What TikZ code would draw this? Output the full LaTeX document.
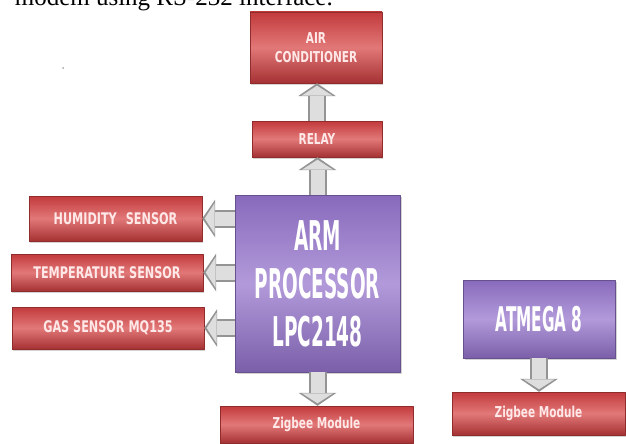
\documentclass[tikz,border=0pt]{standalone}
\usepackage{fontspec}
\setmainfont{Liberation Serif}
\newfontfamily\blockfont[FakeStretch=0.78]{DejaVu Sans Condensed}
\newfontfamily\chipfont[FakeStretch=0.5]{DejaVu Sans Condensed}
\usetikzlibrary{arrows.meta,shadows}
\definecolor{blockred}{RGB}{194,58,60}
\definecolor{blockredlight}{RGB}{226,120,120}
\definecolor{chippurple}{RGB}{136,106,188}
\definecolor{chippurplelight}{RGB}{178,154,218}
\definecolor{arrowgrey}{RGB}{148,148,148}
\definecolor{arrowlight}{RGB}{222,222,222}
\definecolor{labelpink}{RGB}{255,232,232}

\begin{document}
\begin{tikzpicture}[x=1pt,y=-1pt,line join=round,
 redblock/.style={draw=blockred!75!black,thin,top color=blockred,bottom color=blockred!85!black,
  middle color=blockredlight,inner sep=0pt,text=labelpink,align=center,
  font=\blockfont\bfseries\fontsize{15}{19}\selectfont,
  drop shadow={shadow xshift=1pt,shadow yshift=-2pt,opacity=.35}},
 chipblock/.style={draw=chippurple!75!black,thin,top color=chippurple,bottom color=chippurple!90!black,
  middle color=chippurplelight,inner sep=0pt,text=white,align=center,
  drop shadow={shadow xshift=1.5pt,shadow yshift=-2pt,opacity=.35}},
 fatarrow/.style={draw=arrowgrey,line width=18pt,-{Triangle[length=13pt,width=38pt,line width=0pt]},
  postaction={draw=arrowlight,line width=14pt,shorten >=2.5pt,-{Triangle[length=10pt,width=31pt,line width=0pt]}}}]
\useasboundingbox (0,0) rectangle (626,444);
\clip (0,0) rectangle (626,444);
% Zeile aus dem Fliesstext, oben abgeschnitten
\node[anchor=base east,inner sep=0pt,font=\fontsize{25}{28}\selectfont] (caption) at (333,6)
 {modem using RS-232 interface.};
\fill[gray!70] (63,68) circle (1pt);
% Bloecke
\node[redblock,minimum width=132pt,minimum height=71pt] (ac) at (316,47.5) {AIR\\CONDITIONER};
\node[redblock,minimum width=130pt,minimum height=36pt] (relay) at (317,139) {RELAY};
\node[chipblock,minimum width=165pt,minimum height=177pt,
 font=\chipfont\bfseries\fontsize{41}{48}\selectfont] (arm) at (317.5,283.5) {ARM\\PROCESSOR\\LPC2148};
\node[redblock,minimum width=173pt,minimum height=45pt,font=\blockfont\bfseries\fontsize{16}{19}\selectfont]
 (hum) at (115.5,218.5) {HUMIDITY\hspace{9pt}SENSOR};
\node[redblock,minimum width=192pt,minimum height=37pt,font=\blockfont\bfseries\fontsize{16}{19}\selectfont]
 (temp) at (107,272.5) {TEMPERATURE SENSOR};
\node[redblock,minimum width=192pt,minimum height=42pt,font=\blockfont\bfseries\fontsize{16}{19}\selectfont]
 (gas) at (108,328) {GAS SENSOR MQ135};
\node[redblock,minimum width=193pt,minimum height=37pt] (zigA) at (316.5,424.5) {Zigbee Module};
\node[chipblock,minimum width=152pt,minimum height=78pt,
 font=\chipfont\bfseries\fontsize{34}{40}\selectfont] (atmega) at (539,319) {ATMEGA 8};
\node[redblock,minimum width=173pt,minimum height=43pt] (zigB) at (538.5,413.5) {Zigbee Module};
% Verbindungen
\draw[fatarrow] (relay.north) -- (relay.north |- ac.south);
\draw[fatarrow] (arm.north) -- (arm.north |- relay.south);
\draw[fatarrow] (arm.west |- hum.east) -- (hum.east);
\draw[fatarrow] (arm.west |- temp.east) -- (temp.east);
\draw[fatarrow] (arm.west |- gas.east) -- (gas.east);
\draw[fatarrow] (arm.south) -- (arm.south |- zigA.north);
\draw[fatarrow] (atmega.south) -- (atmega.south |- zigB.north);
\end{tikzpicture}
\end{document}
